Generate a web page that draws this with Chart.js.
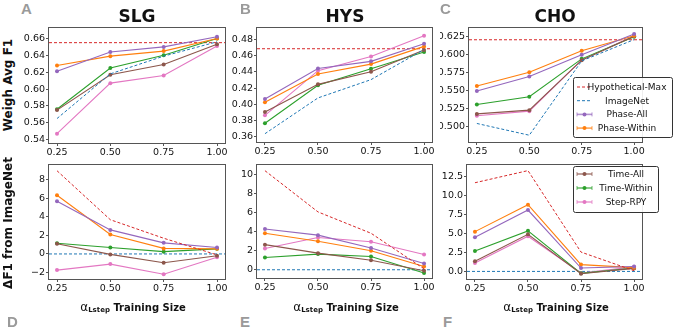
<!DOCTYPE html>
<html>
<head>
<meta charset="utf-8">
<script src="https://cdn.jsdelivr.net/npm/chart.js@4.4.1/dist/chart.umd.min.js"></script>
<style>
body { margin:0; background:#fff; width:677px; height:330px; overflow:hidden; position:relative; font-family:"DejaVu Sans", sans-serif; }
canvas { position:absolute; }
.lbl { position:absolute; white-space:nowrap; }
.panel { font-family:"Liberation Sans", Arial, sans-serif; font-weight:bold; font-size:15px; color:#9a9a9a; }
.title { font-weight:bold; font-size:17px; color:#111; transform:translate(-50%,-50%); }
.ytitle { font-weight:bold; font-size:12px; color:#111; transform:translate(-50%,-50%) rotate(-90deg); }
.xtitle { font-weight:bold; font-size:10px; color:#111; transform:translate(-50%,-50%); }
.xtitle .al { font-size:12px; font-weight:normal; }
.xtitle sub { font-size:7px; vertical-align:-1px; }
</style>
</head>
<body>
<canvas id="chartA" width="212" height="140" style="left:20px;top:20px"></canvas>
<canvas id="chartB" width="212" height="140" style="left:228px;top:20px"></canvas>
<canvas id="chartC" width="237" height="140" style="left:440px;top:20px"></canvas>
<canvas id="chartD" width="212" height="140" style="left:20px;top:157px"></canvas>
<canvas id="chartE" width="212" height="140" style="left:228px;top:157px"></canvas>
<canvas id="chartF" width="237" height="140" style="left:440px;top:157px"></canvas>

<div class="lbl panel" style="left:21px;top:0px">A</div>
<div class="lbl panel" style="left:240px;top:0px">B</div>
<div class="lbl panel" style="left:440px;top:0px">C</div>
<div class="lbl panel" style="left:7px;top:313px">D</div>
<div class="lbl panel" style="left:240px;top:313px">E</div>
<div class="lbl panel" style="left:443px;top:313px">F</div>

<div class="lbl title" style="left:137px;top:16px">SLG</div>
<div class="lbl title" style="left:345px;top:16px">HYS</div>
<div class="lbl title" style="left:555px;top:16px">CHO</div>

<div class="lbl ytitle" style="left:8px;top:85px">Weigh Avg F1</div>
<div class="lbl ytitle" style="left:8px;top:223px">ΔF1 from ImageNet</div>

<div class="lbl xtitle" style="left:133px;top:307px"><span class="al">α</span><sub>Lstep</sub> Training Size</div>
<div class="lbl xtitle" style="left:346px;top:307px"><span class="al">α</span><sub>Lstep</sub> Training Size</div>
<div class="lbl xtitle" style="left:556px;top:307px"><span class="al">α</span><sub>Lstep</sub> Training Size</div>

<script>
// training sizes on the x axis
const trainSizes = [0.25, 0.50, 0.75, 1.00];

// SLG weighted avg F1
const slgHypMax = 0.655;
const slgImageNet = [0.565, 0.618, 0.639, 0.656];
const slgPhaseAll = [0.621, 0.644, 0.650, 0.662];
const slgPhaseWithin = [0.628, 0.639, 0.645, 0.660];
const slgTimeAll = [0.575, 0.617, 0.629, 0.653];
const slgTimeWithin = [0.576, 0.625, 0.640, 0.660];
const slgStepRpy = [0.547, 0.607, 0.616, 0.651];

// HYS weighted avg F1
const hysHypMax = 0.4685;
const hysImageNet = [0.364, 0.408, 0.4305, 0.4675];
const hysPhaseAll = [0.4067, 0.4443, 0.453, 0.4747];
const hysPhaseWithin = [0.4026, 0.4374, 0.4496, 0.4714];
const hysTimeAll = [0.3907, 0.4247, 0.4403, 0.4669];
const hysTimeWithin = [0.3768, 0.4235, 0.4439, 0.4644];
const hysStepRpy = [0.3866, 0.4415, 0.459, 0.4845];

// CHO weighted avg F1
const choHypMax = 0.6208;
const choImageNet = [0.5047, 0.4884, 0.5915, 0.621];
const choPhaseAll = [0.5497, 0.5697, 0.5999, 0.6287];
const choPhaseWithin = [0.5567, 0.5757, 0.6055, 0.6264];
const choTimeAll = [0.518, 0.5232, 0.5925, 0.6255];
const choTimeWithin = [0.5311, 0.5418, 0.5943, 0.625];
const choStepRpy = [0.5153, 0.5218, 0.5929, 0.6264];

// delta F1 from ImageNet (x100)
const dSlgHypMax = [9.0, 3.7, 1.7, -0.1];
const dSlgPhaseAll = [5.7, 2.6, 1.2, 0.7];
const dSlgPhaseWithin = [6.35, 2.1, 0.6, 0.55];
const dSlgTimeAll = [1.1, -0.05, -0.95, -0.2];
const dSlgTimeWithin = [1.15, 0.7, 0.25, 0.55];
const dSlgStepRpy = [-1.75, -1.1, -2.2, -0.35];

const dHysHypMax = [10.45, 6.1, 3.85, 0.1];
const dHysPhaseAll = [4.3, 3.65, 2.3, 0.65];
const dHysPhaseWithin = [3.85, 3.0, 2.0, 0.35];
const dHysTimeAll = [2.65, 1.75, 1.0, -0.1];
const dHysTimeWithin = [1.3, 1.65, 1.4, -0.35];
const dHysStepRpy = [2.25, 3.4, 2.95, 1.6];

const dChoHypMax = [11.7, 13.3, 2.55, 0.1];
const dChoPhaseAll = [4.5, 8.1, 0.45, 0.65];
const dChoPhaseWithin = [5.25, 8.8, 0.9, 0.5];
const dChoTimeAll = [1.35, 4.9, -0.3, 0.4];
const dChoTimeWithin = [2.7, 5.35, -0.25, 0.45];
const dChoStepRpy = [1.1, 4.65, -0.2, 0.6];

// y tick labels
const slgTicks = [0.54, 0.56, 0.58, 0.60, 0.62, 0.64, 0.66];
const hysTicks = [0.36, 0.38, 0.40, 0.42, 0.44, 0.46, 0.48];
const choTicks = [0.500, 0.525, 0.550, 0.575, 0.600, 0.625];
const dSlgTicks = [-2, 0, 2, 4, 6, 8];
const dHysTicks = [0, 2, 4, 6, 8, 10];
const dChoTicks = [0.0, 2.5, 5.0, 7.5, 10.0, 12.5];

const colors = {
    hyp: '#d62728',
    imagenet: '#1f77b4',
    phaseAll: '#9467bd',
    phaseWithin: '#ff7f0e',
    timeAll: '#8c564b',
    timeWithin: '#2ca02c',
    stepRpy: '#e377c2'
};

const tickFont = { family: 'DejaVu Sans', size: 9.5 };

function toPoints(values) {
    return values.map((y, i) => ({ x: trainSizes[i], y: y }));
}

function markedLine(label, values, color) {
    return {
        label: label,
        data: toPoints(values),
        borderColor: color,
        backgroundColor: color,
        borderWidth: 1.1,
        pointRadius: 2,
        pointBorderWidth: 0,
        pointHoverRadius: 2,
        tension: 0
    };
}

function dashedLine(label, values, color) {
    return {
        label: label,
        data: toPoints(values),
        borderColor: color,
        borderWidth: 1,
        borderDash: [3, 2],
        pointRadius: 0,
        tension: 0
    };
}

// horizontal reference line (axhline style) drawn through the y scale
const refLine = {
    id: 'refLine',
    beforeDatasetsDraw(chart, args, opts) {
        if (opts.value === undefined) return;
        const area = chart.chartArea;
        const y = chart.scales.y.getPixelForValue(opts.value);
        const c = chart.ctx;
        c.save();
        c.strokeStyle = opts.color;
        c.lineWidth = 1;
        c.setLineDash([3, 2]);
        c.beginPath();
        c.moveTo(area.left, y);
        c.lineTo(area.right, y);
        c.stroke();
        c.restore();
    }
};

// box around the plot area, like matplotlib spines
const frame = {
    id: 'frame',
    afterDatasetsDraw(chart) {
        const a = chart.chartArea;
        const c = chart.ctx;
        c.save();
        c.strokeStyle = '#555';
        c.lineWidth = 1;
        c.strokeRect(Math.round(a.left) - 0.5, Math.round(a.top) - 0.5, Math.round(a.right - a.left) + 1, Math.round(a.bottom - a.top) + 1);
        c.restore();
    }
};

// legend in a framed box, placed over the plot
const boxLegend = {
    id: 'boxLegend',
    afterDraw(chart, args, opts) {
        if (!opts.items) return;
        const c = chart.ctx;
        const b = opts.box;
        c.save();
        c.fillStyle = 'rgba(255,255,255,0.9)';
        c.strokeStyle = '#333';
        c.lineWidth = 1;
        c.beginPath();
        c.roundRect(b.x, b.y, b.w, b.h, 2);
        c.fill();
        c.stroke();
        c.font = '9px "DejaVu Sans"';
        c.textAlign = 'center';
        c.textBaseline = 'middle';
        opts.items.forEach((it, i) => {
            const y = opts.firstRow + i * opts.rowH;
            const x0 = opts.sampleX, x1 = opts.sampleX + 15;
            c.strokeStyle = it.color;
            if (it.dashed) {
                c.lineWidth = 1;
                c.setLineDash([3, 2]);
                c.beginPath(); c.moveTo(x0, y); c.lineTo(x1, y); c.stroke();
                c.setLineDash([]);
            } else {
                c.globalAlpha = 0.7;
                c.lineWidth = 1.6;
                c.beginPath(); c.moveTo(x0, y); c.lineTo(x1, y); c.stroke();
                c.lineWidth = 1;
                c.beginPath();
                c.moveTo(x0, y - 2); c.lineTo(x0, y + 2);
                c.moveTo(x1, y - 2); c.lineTo(x1, y + 2);
                c.stroke();
                c.globalAlpha = 1;
                c.fillStyle = it.color;
                c.beginPath(); c.arc((x0 + x1) / 2, y, 2, 0, Math.PI * 2); c.fill();
            }
            c.fillStyle = '#111';
            c.fillText(it.text, opts.textX, y + 0.5);
        });
        c.restore();
    }
};

function makePanel(id, cfg) {
    const ctx = document.getElementById(id).getContext('2d');
    return new Chart(ctx, {
        type: 'line',
        data: { datasets: cfg.datasets },
        plugins: [refLine, frame, boxLegend],
        options: {
            responsive: false,
            devicePixelRatio: 1,
            animation: false,
            events: [],
            layout: { padding: { top: cfg.padTop, right: cfg.padRight, left: 0, bottom: 0 } },
            plugins: {
                legend: { display: false },
                tooltip: { enabled: false },
                refLine: cfg.ref || {},
                boxLegend: cfg.legend || {}
            },
            scales: {
                x: {
                    type: 'linear',
                    min: 0.2125,
                    max: 1.0375,
                    border: { display: false },
                    grid: { drawOnChartArea: false, drawTicks: true, tickLength: 3, color: '#555' },
                    ticks: {
                        font: tickFont,
                        color: '#111',
                        padding: 1,
                        autoSkip: false,
                        maxRotation: 0,
                        callback: v => v.toFixed(2)
                    },
                    afterBuildTicks: scale => {
                        scale.ticks = trainSizes.map(v => ({ value: v }));
                    },
                    afterFit: scale => {
                        scale.height = cfg.xAxisH;
                        scale.paddingLeft = 0;
                        scale.paddingRight = 0;
                    }
                },
                y: {
                    type: 'linear',
                    min: cfg.yMin,
                    max: cfg.yMax,
                    border: { display: false },
                    grid: { drawOnChartArea: false, drawTicks: true, tickLength: 3, color: '#555' },
                    ticks: {
                        font: tickFont,
                        color: '#111',
                        padding: 1,
                        autoSkip: false,
                        callback: cfg.yFormat
                    },
                    afterBuildTicks: scale => {
                        scale.ticks = cfg.yTicks.map(v => ({ value: v }));
                    },
                    afterFit: scale => {
                        scale.width = cfg.yAxisW;
                        scale.paddingTop = 0;
                        scale.paddingBottom = 0;
                    }
                }
            }
        }
    });
}

const fmt2 = v => v.toFixed(2);
const fmt3 = v => v.toFixed(3);
const fmtInt = v => (v < 0 ? '\u2212' + Math.abs(v) : String(v));
const fmt1 = v => v.toFixed(1);

function topSets(imagenet, phaseAll, phaseWithin, timeAll, timeWithin, stepRpy) {
    return [
        dashedLine('ImageNet', imagenet, colors.imagenet),
        markedLine('Phase-All', phaseAll, colors.phaseAll),
        markedLine('Phase-Within', phaseWithin, colors.phaseWithin),
        markedLine('Time-All', timeAll, colors.timeAll),
        markedLine('Time-Within', timeWithin, colors.timeWithin),
        markedLine('Step-RPY', stepRpy, colors.stepRpy)
    ];
}

function deltaSets(hyp, phaseAll, phaseWithin, timeAll, timeWithin, stepRpy) {
    return [
        dashedLine('Hypothetical-Max', hyp, colors.hyp),
        markedLine('Phase-All', phaseAll, colors.phaseAll),
        markedLine('Phase-Within', phaseWithin, colors.phaseWithin),
        markedLine('Time-All', timeAll, colors.timeAll),
        markedLine('Time-Within', timeWithin, colors.timeWithin),
        markedLine('Step-RPY', stepRpy, colors.stepRpy)
    ];
}

makePanel('chartA', {
    datasets: topSets(slgImageNet, slgPhaseAll, slgPhaseWithin, slgTimeAll, slgTimeWithin, slgStepRpy),
    ref: { value: slgHypMax, color: colors.hyp },
    yMin: 0.536, yMax: 0.6724, yTicks: slgTicks, yFormat: fmt2,
    padTop: 8, padRight: 7, yAxisW: 29, xAxisH: 17
});

makePanel('chartB', {
    datasets: topSets(hysImageNet, hysPhaseAll, hysPhaseWithin, hysTimeAll, hysTimeWithin, hysStepRpy),
    ref: { value: hysHypMax, color: colors.hyp },
    yMin: 0.3538, yMax: 0.494, yTicks: hysTicks, yFormat: fmt2,
    padTop: 8, padRight: 8, yAxisW: 29, xAxisH: 18
});

makePanel('chartC', {
    datasets: topSets(choImageNet, choPhaseAll, choPhaseWithin, choTimeAll, choTimeWithin, choStepRpy),
    ref: { value: choHypMax, color: colors.hyp },
    yMin: 0.479, yMax: 0.6371, yTicks: choTicks, yFormat: fmt3,
    padTop: 8, padRight: 35, yAxisW: 29, xAxisH: 18,
    legend: {
        box: { x: 133.5, y: 57.5, w: 99, h: 60 },
        firstRow: 67, rowH: 13.7, sampleX: 137, textX: 187,
        items: [
            { text: 'Hypothetical-Max', color: colors.hyp, dashed: true },
            { text: 'ImageNet', color: colors.imagenet, dashed: true },
            { text: 'Phase-All', color: colors.phaseAll },
            { text: 'Phase-Within', color: colors.phaseWithin }
        ]
    }
});

makePanel('chartD', {
    datasets: deltaSets(dSlgHypMax, dSlgPhaseAll, dSlgPhaseWithin, dSlgTimeAll, dSlgTimeWithin, dSlgStepRpy),
    ref: { value: 0, color: colors.imagenet },
    yMin: -2.71, yMax: 9.62, yTicks: dSlgTicks, yFormat: fmtInt,
    padTop: 8, padRight: 7, yAxisW: 29, xAxisH: 18
});

makePanel('chartE', {
    datasets: deltaSets(dHysHypMax, dHysPhaseAll, dHysPhaseWithin, dHysTimeAll, dHysTimeWithin, dHysStepRpy),
    ref: { value: 0, color: colors.imagenet },
    yMin: -0.87, yMax: 11.05, yTicks: dHysTicks, yFormat: fmtInt,
    padTop: 8, padRight: 8, yAxisW: 29, xAxisH: 19
});

makePanel('chartF', {
    datasets: deltaSets(dChoHypMax, dChoPhaseAll, dChoPhaseWithin, dChoTimeAll, dChoTimeWithin, dChoStepRpy),
    ref: { value: 0, color: colors.imagenet },
    yMin: -1.0, yMax: 14.04, yTicks: dChoTicks, yFormat: fmt1,
    padTop: 8, padRight: 35, yAxisW: 27, xAxisH: 18,
    legend: {
        box: { x: 133.5, y: 9.5, w: 85, h: 46 },
        firstRow: 17, rowH: 14, sampleX: 137, textX: 186,
        items: [
            { text: 'Time-All', color: colors.timeAll },
            { text: 'Time-Within', color: colors.timeWithin },
            { text: 'Step-RPY', color: colors.stepRpy }
        ]
    }
});
</script>
</body>
</html>
